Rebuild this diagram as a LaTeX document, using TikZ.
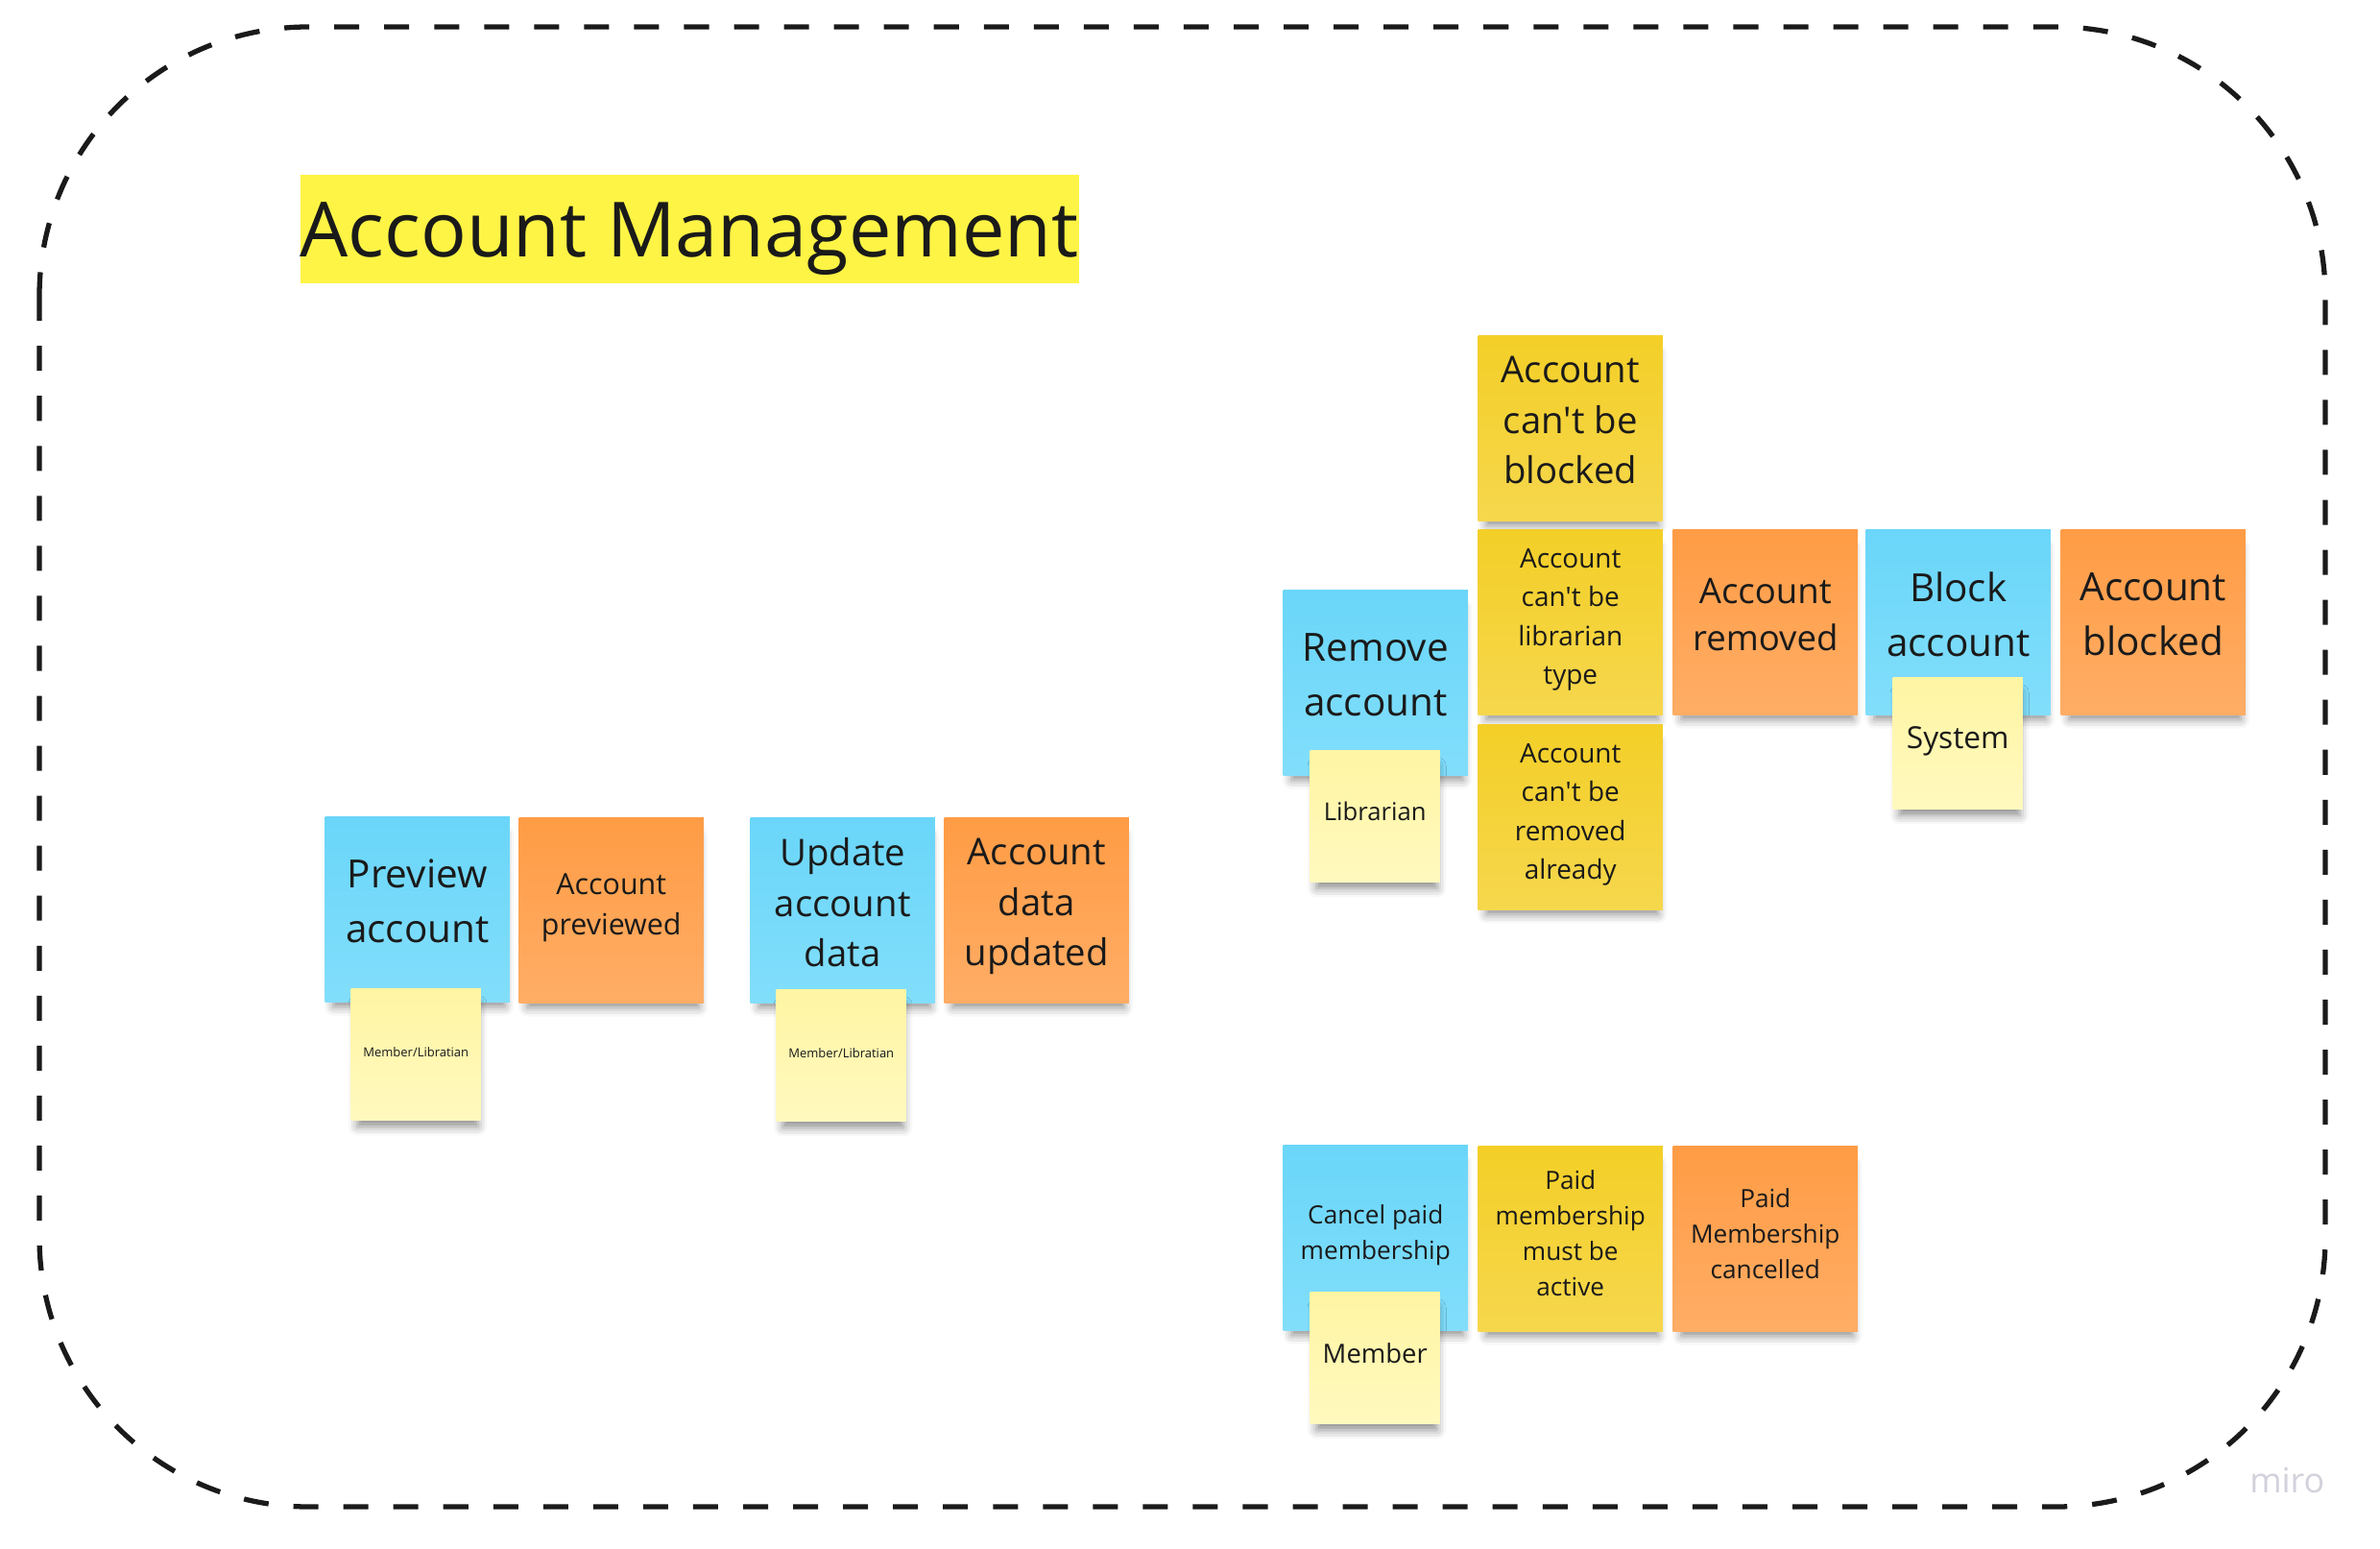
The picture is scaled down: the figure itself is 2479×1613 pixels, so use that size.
\documentclass[tikz,border=0pt]{standalone}
\usepackage{fontspec}
\setmainfont{Open Sans}
\usetikzlibrary{shadows.blur}
\definecolor{ink}{HTML}{1A1A1A}
\definecolor{titleyellow}{HTML}{FEF445}
\definecolor{cmdtop}{HTML}{6AD6F9}
\definecolor{cmdbot}{HTML}{82DEFB}
\definecolor{evttop}{HTML}{FF9C45}
\definecolor{evtbot}{HTML}{FFAD66}
\definecolor{ruletop}{HTML}{F3CF27}
\definecolor{rulebot}{HTML}{F6D74D}
\definecolor{actortop}{HTML}{FFF5A3}
\definecolor{actorbot}{HTML}{FFF9BF}
\definecolor{mirogrey}{HTML}{D2D2DC}
\begin{document}
\begin{tikzpicture}[x=0.01cm,y=-0.01cm,
    sticky/.style={anchor=north west, inner sep=0pt, align=center, text=ink,
      minimum width=1.92cm, minimum height=1.93cm,
      execute at begin node={\rule{0pt}{0.8em}},
      execute at end node={\rule[-0.45em]{0pt}{0.45em}},
      blur shadow={shadow xshift=0.02cm, shadow yshift=-0.12cm, shadow scale=0.93,
        shadow blur radius=0.1cm, shadow opacity=45}},
    cmd/.style={sticky, top color=cmdtop, bottom color=cmdbot},
    evt/.style={sticky, top color=evttop, bottom color=evtbot},
    rule/.style={sticky, top color=ruletop, bottom color=rulebot},
    actor/.style={sticky, minimum width=1.35cm, minimum height=1.37cm,
      top color=actortop, bottom color=actorbot},
    sz/.style 2 args={font=\fontsize{#1}{#2}\selectfont}]
      \useasboundingbox (0,0) rectangle (2479,1613);
      %%%%%%%%%%%%%%%%%%%%%%%%%%%%%%%%%%%%%%%%%%%%%%%
      \draw[ink, line width=1.5pt, dash pattern=on 7.4pt off 7.4pt, rounded corners=2.8cm]
            (41,28) rectangle (2422,1569);
      \node[anchor=north west, fill=titleyellow, inner sep=0pt, text=ink,
            text height=0.86cm, text depth=0.27cm, sz={22.55pt}{27pt}] at (312,181) (title) {Account Management};
      %%%%%%%%%%%%%%%%%%%%%%%%%%%%%%%%%%%%%%%%%%%%%%%
      \node[cmd, sz={11.5pt}{16.2pt}]  at (338,850)  (c1) {Preview\\account};
      \node[evt, sz={8.65pt}{11.9pt}]  at (540,851)  (e1) {Account\\previewed};
      \node[actor, sz={3.7pt}{5pt}]    at (365,1029) (a1) {Member/Libratian};
      %%%%%%%%%%%%%%%%%%%%%%%%%%%%%%%%%%%%%%%%%%%%%%%
      \node[cmd, sz={10.9pt}{14.9pt}]  at (781,851)  (c2) {Update\\account\\data};
      \node[evt, sz={10.9pt}{14.9pt}]  at (983,851)  (e2) {Account\\data\\updated};
      \node[actor, sz={3.7pt}{5pt}]    at (808,1030) (a2) {Member/Libratian};
      %%%%%%%%%%%%%%%%%%%%%%%%%%%%%%%%%%%%%%%%%%%%%%%
      \node[rule, sz={10.9pt}{14.9pt}] at (1539,349) (r1) {Account\\can\textquotesingle t be\\blocked};
      \node[rule, sz={7.95pt}{11.4pt}] at (1539,551) (r2) {Account\\can\textquotesingle t be\\librarian\\type};
      \node[rule, sz={7.95pt}{11.4pt}] at (1539,754) (r3) {Account\\can\textquotesingle t be\\removed\\already};
      \node[cmd, sz={11.5pt}{16.2pt}]  at (1336,614) (c3) {Remove\\account};
      \node[actor, sz={7.3pt}{10pt}]   at (1364,781) (a3) {Librarian};
      \node[evt, sz={10.4pt}{13.9pt}]  at (1742,551) (e3) {Account\\removed};
      \node[cmd, sz={11.5pt}{16.2pt}]  at (1943,551) (c4) {Block\\account};
      \node[actor, sz={9pt}{12pt}]     at (1971,705) (a4) {System};
      \node[evt, sz={11.5pt}{16.2pt}]  at (2146,551) (e4) {Account\\blocked};
      %%%%%%%%%%%%%%%%%%%%%%%%%%%%%%%%%%%%%%%%%%%%%%%
      \node[cmd, sz={7.45pt}{10.5pt}]  at (1336,1192) (c5) {Cancel paid\\membership};
      \node[actor, sz={7.8pt}{10pt}]   at (1364,1345) (a5) {Member};
      \node[rule, sz={7.45pt}{10.5pt}] at (1539,1193) (r4) {Paid\\membership\\must be\\active};
      \node[evt, sz={7.45pt}{10.5pt}]  at (1742,1193) (e5) {Paid\\Membership\\cancelled};
      %%%%%%%%%%%%%%%%%%%%%%%%%%%%%%%%%%%%%%%%%%%%%%%
      \node[anchor=base east, inner sep=0pt, text=mirogrey, sz={10.2pt}{12pt}] at (2422,1554) (logo) {miro};
\end{tikzpicture}
\end{document}
